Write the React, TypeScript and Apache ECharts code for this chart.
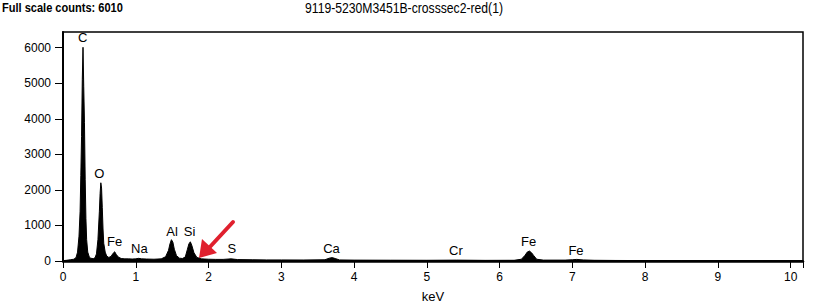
import React, { useEffect, useRef } from "react";
import * as echarts from "echarts";

const titleLeft = "Full scale counts: 6010";
const titleCenter = "9119-5230M3451B-crosssec2-red(1)";
const axisName = "keV";

const spectrumKeV = [
  0.0, 0.05, 0.1, 0.15, 0.18, 0.2, 0.22, 0.235, 0.245, 0.255, 0.265, 0.275, 0.285, 0.295, 0.305, 0.315,
  0.325, 0.34, 0.36, 0.38, 0.4, 0.42, 0.44, 0.46, 0.48, 0.5, 0.51, 0.52, 0.53, 0.54, 0.55, 0.56, 0.58,
  0.6, 0.63, 0.66, 0.69, 0.71, 0.73, 0.76, 0.8, 0.85, 0.9, 0.95, 1.0, 1.04, 1.08, 1.15, 1.25, 1.35,
  1.41, 1.45, 1.47, 1.49, 1.51, 1.53, 1.56, 1.6, 1.64, 1.68, 1.71, 1.73, 1.75, 1.77, 1.8, 1.84, 1.9,
  2.0, 2.1, 2.2, 2.31, 2.4, 2.6, 2.8, 3.0, 3.3, 3.6, 3.66, 3.7, 3.74, 3.8, 4.0, 4.5, 5.0, 5.41, 5.8,
  6.2, 6.3, 6.35, 6.38, 6.41, 6.44, 6.47, 6.51, 6.6, 6.9, 7.0, 7.06, 7.15, 7.3, 7.6, 8.0, 8.5, 9.0,
  9.5, 10.17,
];
const spectrumCounts = [
  10, 20, 35, 50, 100, 250, 700, 1400, 2400, 3500, 5100, 6010, 4900, 3900, 2300, 1200,
  600, 250, 120, 80, 70, 70, 90, 200, 600, 1400, 1900, 2200, 2050, 1500, 900, 500, 250,
  140, 100, 130, 220, 260, 190, 110, 70, 60, 60, 55, 60, 75, 60, 55, 50, 60,
  120, 300, 480, 600, 530, 330, 150, 80, 70, 110, 330, 480, 540, 440, 230, 100, 60,
  50, 45, 45, 60, 40, 35, 30, 30, 28, 35, 80, 95, 70, 30, 25, 22, 20, 25, 18,
  20, 50, 160, 250, 280, 230, 150, 50, 25, 25, 35, 45, 30, 20, 15, 12, 10, 10,
  9, 8,
];

const peakNames = ["C", "O", "Fe", "Na", "Al", "Si", "S", "Ca", "Cr", "Fe", "Fe"];
const peakKeV = [0.27, 0.5, 0.71, 1.05, 1.5, 1.74, 2.32, 3.69, 5.4, 6.4, 7.05];
const peakLabelCounts = [6280, 2460, 540, 340, 840, 820, 340, 340, 290, 560, 290];

const xTicks = [0, 1, 2, 3, 4, 5, 6, 7, 8, 9, 10];
const yTicks = [0, 1000, 2000, 3000, 4000, 5000, 6000];

export default function App() {
  const ref = useRef<HTMLDivElement>(null);
  useEffect(() => {
    if (!ref.current) return;
    const chart = echarts.init(ref.current, undefined, { renderer: "svg" });
    const tickFont = "'Liberation Sans', Arial, sans-serif";
    chart.setOption({
      animation: false,
      backgroundColor: "#fff",
      grid: {
        left: 63,
        right: 20,
        top: 32,
        bottom: 45,
        show: true,
        borderColor: "#000",
        borderWidth: 1.5,
        backgroundColor: "transparent",
      },
      xAxis: {
        type: "value",
        min: 0,
        max: 10.17,
        interval: 1,
        name: axisName,
        nameLocation: "middle",
        nameGap: 29,
        nameTextStyle: { color: "#000", fontSize: 13, fontFamily: tickFont },
        axisLine: { show: true, onZero: false, lineStyle: { color: "#000", width: 2.5 } },
        axisTick: { show: true, inside: false, length: 7, lineStyle: { color: "#000", width: 1 } },
        axisLabel: {
          color: "#000",
          fontSize: 12,
          fontFamily: tickFont,
          margin: 10,
          showMaxLabel: true,
          formatter: (v: number) => (xTicks.includes(v) ? String(v) : ""),
        },
        splitLine: { show: false },
      },
      yAxis: {
        type: "value",
        min: 0,
        max: 6440,
        interval: 1000,
        axisLine: { show: true, onZero: false, lineStyle: { color: "#000", width: 2 } },
        axisTick: { show: true, inside: false, length: 8, lineStyle: { color: "#000", width: 1 } },
        axisLabel: {
          color: "#000",
          fontSize: 12,
          fontFamily: tickFont,
          margin: 12,
          showMaxLabel: false,
          formatter: (v: number) => (yTicks.includes(v) ? String(v) : ""),
        },
        splitLine: { show: false },
      },
      graphic: [
        {
          type: "text",
          x: 2,
          y: 1,
          scaleX: 0.85,
          style: {
            text: titleLeft,
            fill: "#000",
            font: "bold 13px 'Liberation Sans', Arial, sans-serif",
          },
        },
        {
          type: "text",
          x: 305,
          y: 1,
          scaleX: 0.87,
          style: {
            text: titleCenter,
            fill: "#000",
            font: "14px 'Liberation Sans', Arial, sans-serif",
          },
        },
        {
          type: "line",
          shape: { x1: 233, y1: 222, x2: 208, y2: 249 },
          style: { stroke: "#e0202e", lineWidth: 4, lineCap: "round" },
        },
        {
          type: "polygon",
          shape: { points: [[199, 258], [202, 239], [217, 253]] },
          style: { fill: "#e0202e" },
        },
      ],
      series: [
        {
          type: "line",
          data: spectrumKeV.map((k, i) => [k, spectrumCounts[i]]),
          symbol: "none",
          lineStyle: { color: "#000", width: 1 },
          areaStyle: { color: "#000", opacity: 1 },
          silent: true,
          z: 2,
        },
        {
          type: "scatter",
          data: peakNames.map((n, i) => ({ name: n, value: [peakKeV[i], peakLabelCounts[i]] })),
          symbolSize: 0,
          itemStyle: { opacity: 1 },
          label: {
            show: true,
            position: "inside",
            formatter: "{b}",
            color: "#000",
            opacity: 1,
            fontSize: 13,
            fontFamily: tickFont,
          },
          z: 3,
        },
      ],
    });
    return () => chart.dispose();
  }, []);
  return <div ref={ref} style={{ width: 823, height: 308, position: "absolute", left: 0, top: 0 }} />;
}
